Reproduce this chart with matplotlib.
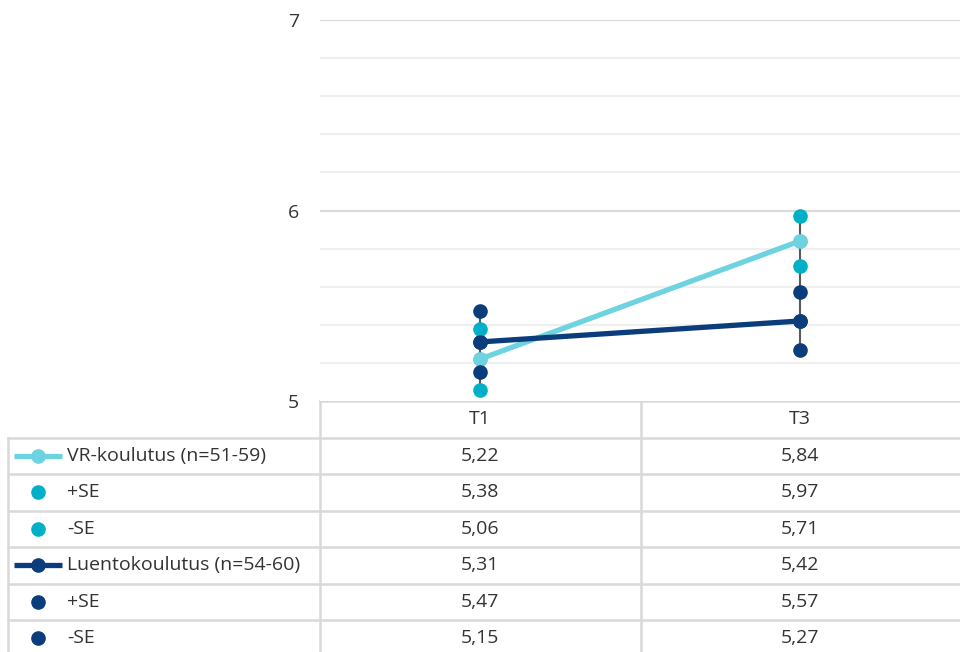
import numpy as np
import matplotlib
matplotlib.use("Agg")
import matplotlib.pyplot as plt
from matplotlib.transforms import blended_transform_factory

# data
categories = ["T1", "T3"]
series_names = ["VR-koulutus (n=51-59)", "+SE", "-SE",
                "Luentokoulutus (n=54-60)", "+SE", "-SE"]
vr = [5.22, 5.84]
vr_plus = [5.38, 5.97]
vr_minus = [5.06, 5.71]
lk = [5.31, 5.42]
lk_plus = [5.47, 5.57]
lk_minus = [5.15, 5.27]

LIGHT = "#6dd3e0"
CYAN = "#00b0c8"
NAVY = "#0b3c7c"
TXT = "#333333"
GRID_MAJ = "#d9d9d9"
GRID_MIN = "#efefef"

plt.rcParams["font.family"] = ["Open Sans", "DejaVu Sans"]
FS = 14

W, H = 960, 652
fig = plt.figure(figsize=(W / 100, H / 100), dpi=100)

# main plot area in pixels: x 320..960, y 20..401
ax = fig.add_axes([320 / W, 1 - 401 / H, 640 / W, (401 - 20) / H])
x = np.arange(len(categories))

ax.set_xlim(-0.5, 1.5)
ax.set_ylim(5, 7)
for v in np.arange(5.2, 7.0, 0.2):
    if abs(v - 6) > 1e-6:
        ax.axhline(v, color=GRID_MIN, lw=1.6, zorder=0)
for v in [6, 7]:
    ax.axhline(v, color=GRID_MAJ, lw=1.6, zorder=0)

ax.plot(x, vr, color=LIGHT, lw=3.8, marker="o", ms=9.5, zorder=2)
ax.plot(x, lk, color=NAVY, lw=3.8, marker="o", ms=9.5, zorder=2.5)

# high-low lines
all_series = np.array([vr, vr_plus, vr_minus, lk, lk_plus, lk_minus])
ax.vlines(x, all_series.min(axis=0), all_series.max(axis=0),
          color="#595959", lw=1.5, zorder=3)

ax.plot(x, vr, ls="none", marker="o", ms=9.5, color=LIGHT, zorder=4)
ax.plot(x, vr_plus, ls="none", marker="o", ms=9.5, color=CYAN, zorder=4)
ax.plot(x, vr_minus, ls="none", marker="o", ms=9.5, color=CYAN, zorder=4)
ax.plot(x, lk, ls="none", marker="o", ms=9.5, color=NAVY, zorder=4)
ax.plot(x, lk_plus, ls="none", marker="o", ms=9.5, color=NAVY, zorder=4)
ax.plot(x, lk_minus, ls="none", marker="o", ms=9.5, color=NAVY, zorder=4)

ax.set_yticks([5, 6, 7])
ax.set_yticklabels(["5", "6", "7"])
ax.tick_params(axis="y", length=0, pad=15, labelsize=FS, labelcolor=TXT)
ax.set_xticks([])
for s in ax.spines.values():
    s.set_visible(False)

# data table drawn below the plot
ov = fig.add_axes([0, 0, 1, 1], zorder=-1)
ov.set_xlim(0, W)
ov.set_ylim(H, 0)
ov.axis("off")
tr = blended_transform_factory(ax.transData, ov.transData)

table_top = 401
row_h = 36.5
line_kw = dict(color=GRID_MAJ, lw=1.8)
ov.plot([320, W], [table_top, table_top], **line_kw)
n_rows = len(series_names)
for i in range(n_rows + 1):
    yy = table_top + row_h * (i + 1)
    ov.plot([8, W], [yy, yy], **line_kw)
ov.plot([8, 8], [table_top + row_h, H], **line_kw)
for xb in [320, 641]:
    ov.plot([xb, xb], [table_top, H], **line_kw)

for j, c in enumerate(categories):
    ov.text(j, table_top + row_h / 2, c, transform=tr, ha="center",
            va="center", fontsize=FS, color=TXT)

values = [vr, vr_plus, vr_minus, lk, lk_plus, lk_minus]
keys = [(LIGHT, True), (CYAN, False), (CYAN, False),
        (NAVY, True), (NAVY, False), (NAVY, False)]
for i, (name, vals, (col, has_line)) in enumerate(zip(series_names, values, keys)):
    yc = table_top + row_h * (i + 1) + row_h / 2
    if has_line:
        ov.plot([14, 62], [yc, yc], color=col, lw=3.8, solid_capstyle="butt")
    ov.plot([38], [yc], marker="o", ms=9.5, color=col, ls="none")
    ov.text(67, yc, name, ha="left", va="center", fontsize=FS, color=TXT)
    for j, v in enumerate(vals):
        ov.text(j, yc, f"{v:.2f}".replace(".", ","), transform=tr,
                ha="center", va="center", fontsize=FS, color=TXT)

fig.savefig("out.png", dpi=100)
